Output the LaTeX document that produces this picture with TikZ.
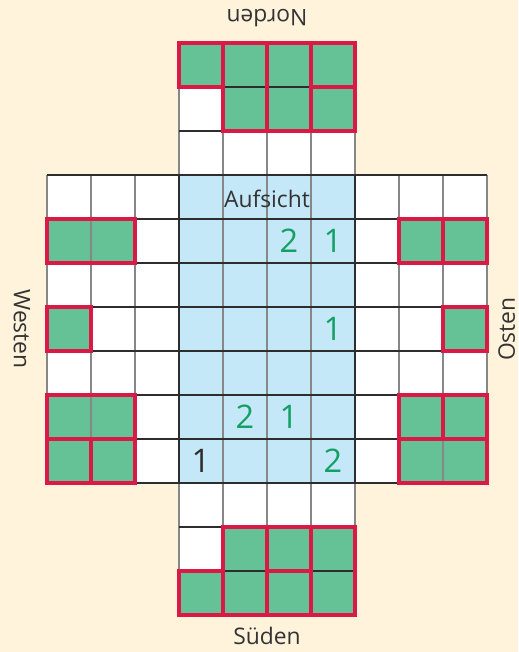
\documentclass[tikz,border=0pt]{standalone}
\usepackage{fontspec}
\setmainfont{Open Sans}
\usetikzlibrary{positioning}
\definecolor{paper}{RGB}{255,243,220}
\definecolor{topview}{RGB}{197,232,248}
\definecolor{cube}{RGB}{100,194,150}
\definecolor{edgered}{RGB}{220,25,70}
\definecolor{countgreen}{RGB}{20,160,100}
\definecolor{gridgray}{RGB}{135,135,135}
\definecolor{griddark}{RGB}{45,45,45}
\tikzset{
  cubecell/.style={fill=cube},
  cubeedge/.style={draw=edgered, line width=1.9pt},
  vline/.style={draw=gridgray, line width=0.8pt},
  hline/.style={draw=griddark, line width=0.8pt},
  viewlabel/.style={font=\fontsize{13}{15}\selectfont, text=black!80, inner sep=0pt},
  countlabel/.style={font=\fontsize{18.5}{20}\selectfont, text=countgreen, inner sep=0pt},
}
\begin{document}
\begin{tikzpicture}[x=0.88cm, y=-0.88cm]
    % paper and margins
    \fill[paper] (-4.068,-3.977) rectangle (7.705,10.841);
    \useasboundingbox (-4.068,-3.977) rectangle (7.705,10.841);

    % white side views, blue top view
    \fill[white] (0,-3) rectangle (4,0);
    \fill[white] (-3,0) rectangle (0,7);
    \fill[white] (4,0)  rectangle (7,7);
    \fill[white] (0,7)  rectangle (4,10);
    \fill[topview] (0,0) rectangle (4,7);

    % green cells (top-left corners) -- Norden, Westen, Osten, Sueden
    \foreach \x/\y in {0/-3,1/-3,2/-3,3/-3,1/-2,2/-2,3/-2,
                       -3/1,-2/1,-3/3,-3/5,-2/5,-3/6,-2/6,
                       5/1,6/1,6/3,5/5,6/5,5/6,6/6,
                       1/8,2/8,3/8,0/9,1/9,2/9,3/9}
      \fill[cubecell] (\x,\y) rectangle ++(1,1);

    % grid lines: grey verticals, dark horizontals
    \foreach \x in {0,...,4}
      \draw[vline] (\x,-3) -- (\x,10);
    \foreach \x in {-3,-2,-1,5,6,7}
      \draw[vline] (\x,0) -- (\x,7);
    \foreach \y in {-3,...,10}
      \draw[hline] (0,\y) -- (4,\y);
    \foreach \y in {0,...,7}
      \draw[hline] (-3,\y) -- (7,\y);

    % red outlines of the visible cube faces
    \foreach \a/\b/\c/\d in {0/-3/1/-2, 1/-3/2/-1, 2/-3/3/-1, 3/-3/4/-2, 3/-2/4/-1,
                             -3/1/-1/2, -3/3/-2/4, -3/5/-1/6, -3/6/-2/7, -2/6/-1/7,
                             5/1/6/2, 6/1/7/2, 6/3/7/4, 5/5/6/6, 6/5/7/6, 5/6/7/7,
                             0/9/1/10, 1/8/2/10, 2/8/3/9, 2/9/3/10, 3/8/4/10}
      \draw[cubeedge] (\a,\b) rectangle (\c,\d);

    % frame of the top view
    \draw[griddark, line width=1.3pt] (0,0) rectangle (4,7);

    % view labels
    \node[viewlabel, rotate=180] (norden) at (2,-3.57) {Norden};
    \node[viewlabel]             (sueden) at (2,10.48) {Süden};
    \node[viewlabel, rotate=-90] (westen) at (-3.57,3.5) {Westen};
    \node[viewlabel, rotate=90]  (osten)  at (7.45,3.5) {Osten};
    \node[viewlabel]             (aufsicht) at (2,0.55) {Aufsicht};

    % tower heights
    \node[countlabel] (h21) at (2.5,1.5) {2};
    \node[countlabel] (h31) at (3.5,1.5) {1};
    \node[countlabel] (h33) at (3.5,3.5) {1};
    \node[countlabel] (h15) at (1.5,5.5) {2};
    \node[countlabel] (h25) at (2.5,5.5) {1};
    \node[countlabel, text=griddark] (h06) at (0.5,6.5) {1};
    \node[countlabel] (h36) at (3.5,6.5) {2};

  \end{tikzpicture}
\end{document}
